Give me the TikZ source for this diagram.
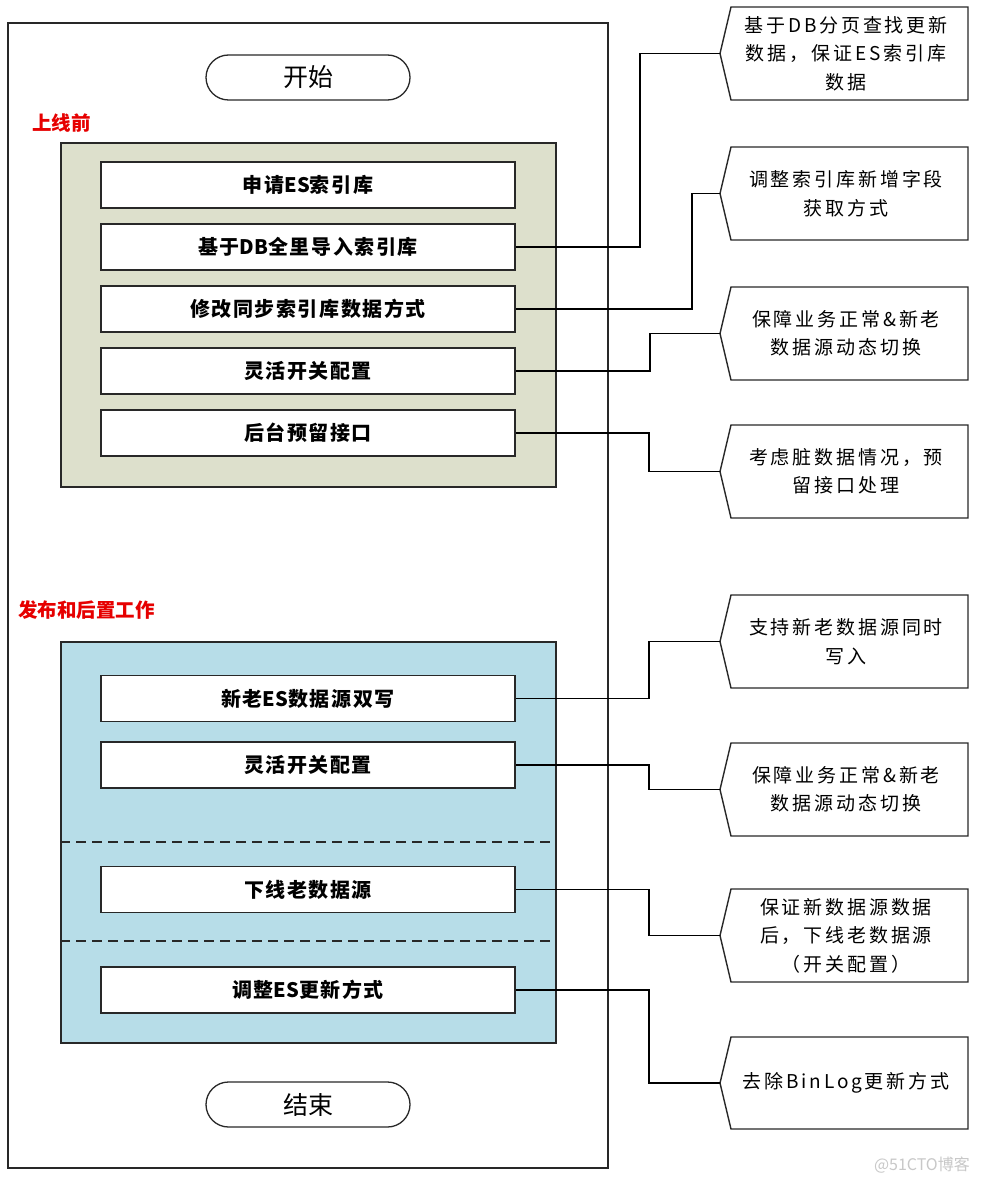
\documentclass[tikz,border=0pt]{standalone}
\usepackage{fontspec}
\newfontfamily\cjk{Noto Sans CJK SC}
\newfontfamily\cjkbox{Noto Sans CJK SC}[LetterSpace=8]
\newfontfamily\notefont{Noto Sans CJK SC}[LetterSpace=15]
\newcommand\lat[1]{{\cjk\bfseries #1}}
\definecolor{greenfill}{RGB}{221,224,204}
\definecolor{bluefill}{RGB}{183,221,232}
\definecolor{linec}{RGB}{40,40,40}
\definecolor{redlab}{RGB}{230,0,0}
\definecolor{wmark}{RGB}{200,200,200}
\tikzset{
  frame/.style={draw=linec, line width=1.3pt},
  group/.style={draw=linec, line width=1.3pt, inner sep=0pt},
  stepbox/.style={draw=linec, line width=1.5pt, fill=white, minimum width=414pt,
    minimum height=46pt, inner sep=0pt, font=\cjkbox\bfseries\fontsize{20}{22}\selectfont},
  terminal/.style={draw=linec, line width=1.3pt, rounded corners=22.5pt, minimum width=204pt,
    minimum height=45pt, inner sep=0pt, font=\cjk\fontsize{25}{27}\selectfont},
  phase/.style={text=redlab, anchor=west, inner sep=0pt, font=\cjk\bfseries\fontsize{19.5}{21}\selectfont},
  notebox/.style={draw=linec, line width=1.4pt, fill=white},
  notetext/.style={align=center, inner sep=0pt, font=\notefont\fontsize{19}{28.5}\selectfont},
  conn/.style={draw=black, line width=1.3pt},
  divider/.style={draw=linec, line width=1.3pt, dash pattern=on 10pt off 6pt}
}
\newcommand\mycallout[4]{%
  \draw[notebox] (731,#2) -- (968,#2) -- (968,#3) -- (731,#3) -- (720,{(#2+#3)/2}) -- cycle;
  \coordinate (#1p) at (720,{(#2+#3)/2});
  \node[notetext] (#1) at (846,{(#2+#3)/2}) {#4};
}
\begin{document}
\begin{tikzpicture}[x=1pt,y=-1pt]
\useasboundingbox (0,0) rectangle (980,1182);
\fill[white] (0,0) rectangle (980,1182);

% outer frame
\node[frame, minimum width=600pt, minimum height=1145pt, inner sep=0pt] (outer) at (308,595.5) {};

% start / end
\node[terminal] (start) at (308,77.5) {开始};
\node[terminal] (end) at (308,1104.5) {结束};

% phase labels
\node[phase] (lab1) at (32,123) {上线前};
\node[phase] (lab2) at (18,610) {发布和后置工作};

% groups
\node[group, fill=greenfill, minimum width=495pt, minimum height=344pt] (g1) at (308.5,315) {};
\node[group, fill=bluefill, minimum width=495pt, minimum height=401pt] (g2) at (308.5,842.5) {};
\draw[divider] (g2.west |- 0,842) -- (g2.east |- 0,842);
\draw[divider] (g2.west |- 0,941) -- (g2.east |- 0,941);

% step boxes
\node[stepbox] (b1) at (308,185) {申请\lat{ES}索引库};
\node[stepbox] (b2) at (308,247) {基于\lat{DB}全里导入索引库};
\node[stepbox] (b3) at (308,309) {修改同步索引库数据方式};
\node[stepbox] (b4) at (308,371) {灵活开关配置};
\node[stepbox] (b5) at (308,433) {后台预留接口};
\node[stepbox] (b6) at (308,698.5) {新老\lat{ES}数据源双写};
\node[stepbox] (b7) at (308,765) {灵活开关配置};
\node[stepbox] (b8) at (308,889.5) {下线老数据源};
\node[stepbox] (b9) at (308,990) {调整\lat{ES}更新方式};

% callouts
\mycallout{n1}{7}{100}{基于DB分页查找更新\\数据，保证ES索引库\\数据}
\mycallout{n2}{147}{240}{调整索引库新增字段\\获取方式}
\mycallout{n3}{287}{380}{保障业务正常\&新老\\数据源动态切换}
\mycallout{n4}{425}{518}{考虑脏数据情况，预\\留接口处理}
\mycallout{n5}{595}{688}{支持新老数据源同时\\写入}
\mycallout{n6}{743}{836}{保障业务正常\&新老\\数据源动态切换}
\mycallout{n7}{889}{982}{保证新数据源数据\\后，下线老数据源\\（开关配置）}
\mycallout{n8}{1037}{1129}{去除BinLog更新方式}

% turn positions
\coordinate (t1) at (640,0);
\coordinate (t2) at (692,0);
\coordinate (t3) at (650,0);
\coordinate (t4) at (649,0);

% connectors
\draw[conn] (b2.east) -- (b2.east -| t1) |- (n1p);
\draw[conn] (b3.east) -- (b3.east -| t2) |- (n2p);
\draw[conn] (b4.east) -- (b4.east -| t3) |- (n3p);
\draw[conn] (b5.east) -- (b5.east -| t4) |- (n4p);
\draw[conn] (b6.east) -- (b6.east -| t4) |- (n5p);
\draw[conn] (b7.east) -- (b7.east -| t4) |- (n6p);
\draw[conn] (b8.east) -- (b8.east -| t4) |- (n7p);
\draw[conn] (b9.east) -- (b9.east -| t4) |- (n8p);

% watermark
\node[anchor=east, inner sep=0pt, text=wmark, font=\cjk\fontsize{16}{17}\selectfont] (wm) at (970,1165) {@51CTO博客};
\end{tikzpicture}
\end{document}
